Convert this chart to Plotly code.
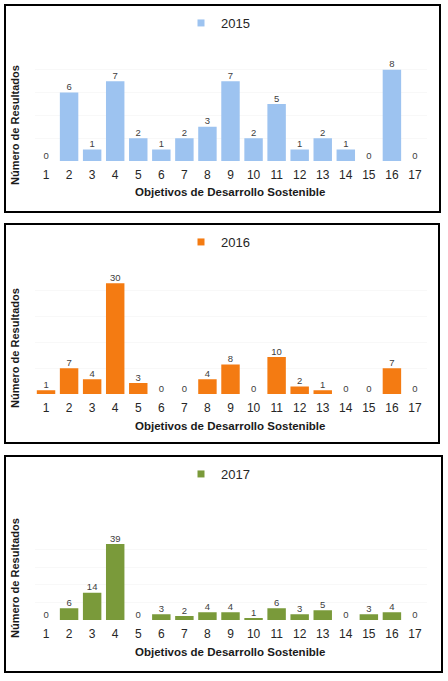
import plotly.graph_objects as go

# Objetivos de Desarrollo Sostenible (ODS 1..17)
ods = list(range(1, 18))
ods_labels = [str(o) for o in ods]

resultados_2015 = [0, 6, 1, 7, 2, 1, 2, 3, 7, 2, 5, 1, 2, 1, 0, 8, 0]
resultados_2016 = [1, 7, 4, 30, 3, 0, 0, 4, 8, 0, 10, 2, 1, 0, 0, 7, 0]
resultados_2017 = [0, 6, 14, 39, 0, 3, 2, 4, 4, 1, 6, 3, 5, 0, 3, 4, 0]

years = ['2015', '2016', '2017']
colors = ['#9DC3F0', '#F47B12', '#7A9A3A']

W, H = 448, 681


def py(px):
    # pixel row -> paper y
    return 1 - px / H


# panel frames (pixels) and plot areas
frames = [(5, 5, 440, 212), (5, 224, 439, 443), (5, 456, 442, 672)]
baselines = [161, 394, 620]
yranges = [10, 35, 45]
unit_px = [11.4, 3.69, 1.95]
legend_y = [23, 242, 474]
title_y = [192, 426, 652]
ytitle_y = [125, 348, 578]

x_dom = [34.5 / W, 426.5 / W]

fig = go.Figure()
layout = dict(
    width=W, height=H,
    margin=dict(l=0, r=0, t=0, b=0),
    paper_bgcolor='white', plot_bgcolor='white',
    font=dict(family='Liberation Sans, Arial', color='#262626'),
    barmode='overlay',
    shapes=[], annotations=[],
)

data = [resultados_2015, resultados_2016, resultados_2017]
for i, (vals, year, col) in enumerate(zip(data, years, colors)):
    n = '' if i == 0 else str(i + 1)
    xa, ya = 'x' + n, 'y' + n
    leg = 'legend' + n
    fig.add_trace(go.Bar(x=ods, y=vals, name=year, marker=dict(color=col, line=dict(width=0)),
                         xaxis=xa, yaxis=ya, showlegend=False, width=0.8))
    fig.add_trace(go.Scatter(x=ods, y=vals, mode='text', text=[str(v) for v in vals],
                             textposition='top center', textfont=dict(size=9.5, color='#404040'),
                             xaxis=xa, yaxis=ya, showlegend=False, cliponaxis=False, hoverinfo='skip'))
    # legend entry with the small square used in the original
    fig.add_trace(go.Scatter(x=[None], y=[None], mode='markers', name=year,
                             marker=dict(symbol='square', size=7, color=col),
                             xaxis=xa, yaxis=ya, legend=leg))

    top_px = baselines[i] - yranges[i] * unit_px[i]
    layout['xaxis' + n] = dict(domain=x_dom, anchor=ya, range=[0.5, 17.5], tickvals=ods, ticktext=ods_labels,
                               showgrid=False, zeroline=False, showline=False,
                               ticks='outside', ticklen=3, tickcolor='rgba(0,0,0,0)',
                               tickfont=dict(size=12, color='#262626'))
    layout['yaxis' + n] = dict(domain=[py(baselines[i]), py(top_px)], anchor=xa, range=[0, yranges[i]],
                               showticklabels=False, showgrid=True, gridcolor='#F8F8F8',
                               dtick=yranges[i] / 5 if i else 2, zeroline=False, showline=False)
    layout[leg] = dict(x=0.5 - 6 / W, xanchor='center', y=py(legend_y[i]), yanchor='middle', orientation='h',
                       font=dict(size=13, color='#262626'), bgcolor='rgba(0,0,0,0)', itemwidth=30)

    x0, y0, x1, y1 = frames[i]
    layout['shapes'].append(dict(type='rect', xref='paper', yref='paper', x0=x0 / W, x1=x1 / W,
                                 y0=py(y1), y1=py(y0), line=dict(color='black', width=2)))
    layout['annotations'].append(dict(text='<b>Objetivos de Desarrollo Sostenible</b>', xref='paper', yref='paper',
                                      x=230 / W, y=py(title_y[i]), xanchor='center', yanchor='middle',
                                      showarrow=False, font=dict(size=11.5, color='#1a1a1a')))
    layout['annotations'].append(dict(text='<b>Número de Resultados</b>', xref='paper', yref='paper',
                                      x=15 / W, y=py(ytitle_y[i]), xanchor='center', yanchor='middle',
                                      showarrow=False, textangle=-90,
                                      font=dict(size=11, color='#1a1a1a')))

fig.update_layout(**layout)
fig.write_html('out.html', config=dict(displayModeBar=False),
               post_script="document.body.style.margin='0px';")
